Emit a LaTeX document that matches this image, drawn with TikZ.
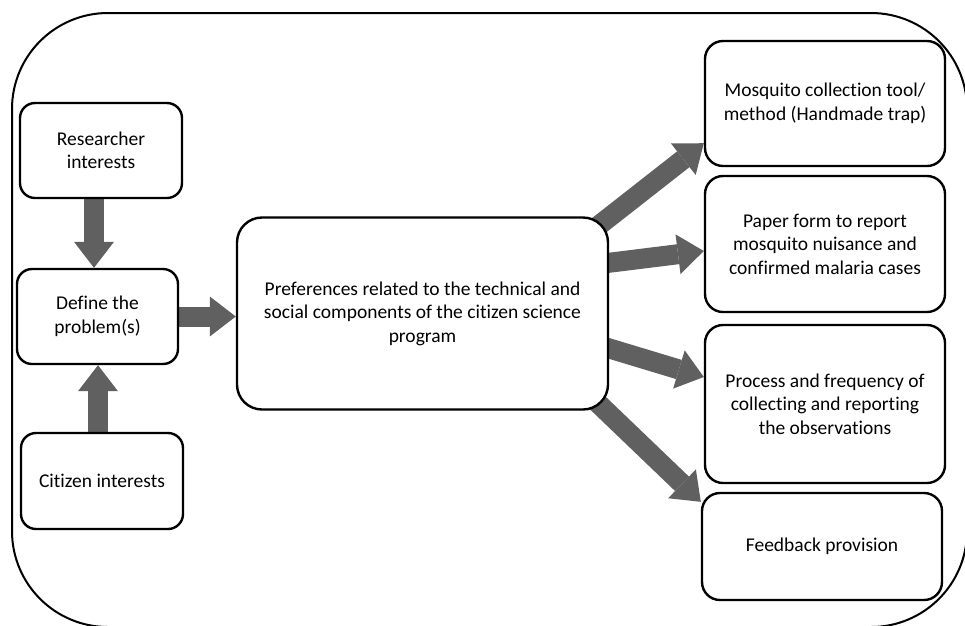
\documentclass[tikz,border=0pt]{standalone}
\usepackage{fontspec}
\setmainfont{Carlito}[Ligatures=NoCommon]
\usetikzlibrary{arrows.meta}
\pgfdeclarelayer{background}
\pgfsetlayers{background,main}
\definecolor{arrowgray}{RGB}{96,96,96}

\tikzset{
  box/.style={draw=black, line width=2.4pt, fill=white, rounded corners=15pt,
    align=center, inner sep=0pt, font=\fontsize{19.5}{23.5}\selectfont},
  fat/.style={draw=arrowgray, line width=20pt, line cap=butt,
    -{Triangle[width=40pt,length=26pt,line width=0pt]}},
}

\begin{document}
\begin{tikzpicture}[x=1pt,y=-1pt]
\useasboundingbox (0,0) rectangle (965,625);
\clip (0,0) rectangle (965,625);

% outer frame
\draw[line width=2pt, rounded corners=96pt] (12,13) rectangle (967,627);

% left column
\node[box, minimum width=162pt, minimum height=95pt] (res) at (101,150.5) {Researcher\\interests};
\node[box, minimum width=161pt, minimum height=95pt] (def) at (97.5,316.5) {Define the\\problem(s)};
\node[box, minimum width=162pt, minimum height=96pt] (cit) at (102,481) {Citizen interests};

% central box
\node[box, rounded corners=25pt, minimum width=371pt, minimum height=192pt] (pref) at (422.5,313.5)
  {Preferences related to the technical and\\social components of the citizen science\\program};

% right column
\node[box, rounded corners=18pt, minimum width=240pt, minimum height=125pt] (mos) at (825,103.5)
  {Mosquito collection tool/\\method (Handmade trap)};
\node[box, rounded corners=18pt, minimum width=240pt, minimum height=136pt] (pap) at (825,244)
  {Paper form to report\\mosquito nuisance and\\confirmed malaria cases};
\node[box, rounded corners=18pt, minimum width=240pt, minimum height=158pt] (proc) at (825,404)
  {Process and frequency of\\collecting and reporting\\the observations};
\node[box, rounded corners=18pt, minimum width=240pt, minimum height=107pt] (feed) at (822,546.5)
  {Feedback provision};

% connectors
\begin{pgfonlayer}{background}
\draw[fat] ([xshift=-7pt]res.south) -- ([xshift=-7pt]res.south |- def.north);
\draw[fat] ([xshift=-4pt]cit.north) -- ([xshift=-4pt]cit.north |- def.south);
\draw[fat] (def.east) -- (pref.west |- def.east);
\draw[fat] ([xshift=-14pt,yshift=-12pt]pref.north east) -- ([yshift=24pt]mos.south west);
\draw[fat] ([xshift=-10pt,yshift=49.5pt]pref.east) -- ([yshift=-7pt]pap.west);
\draw[fat] ([xshift=-8pt,yshift=-32.5pt]pref.east) -- ([yshift=27pt]proc.west);
\draw[fat] ([xshift=-18pt,yshift=14pt]pref.south east) -- ([yshift=-10pt]feed.north west);
\end{pgfonlayer}
\end{tikzpicture}
\end{document}
